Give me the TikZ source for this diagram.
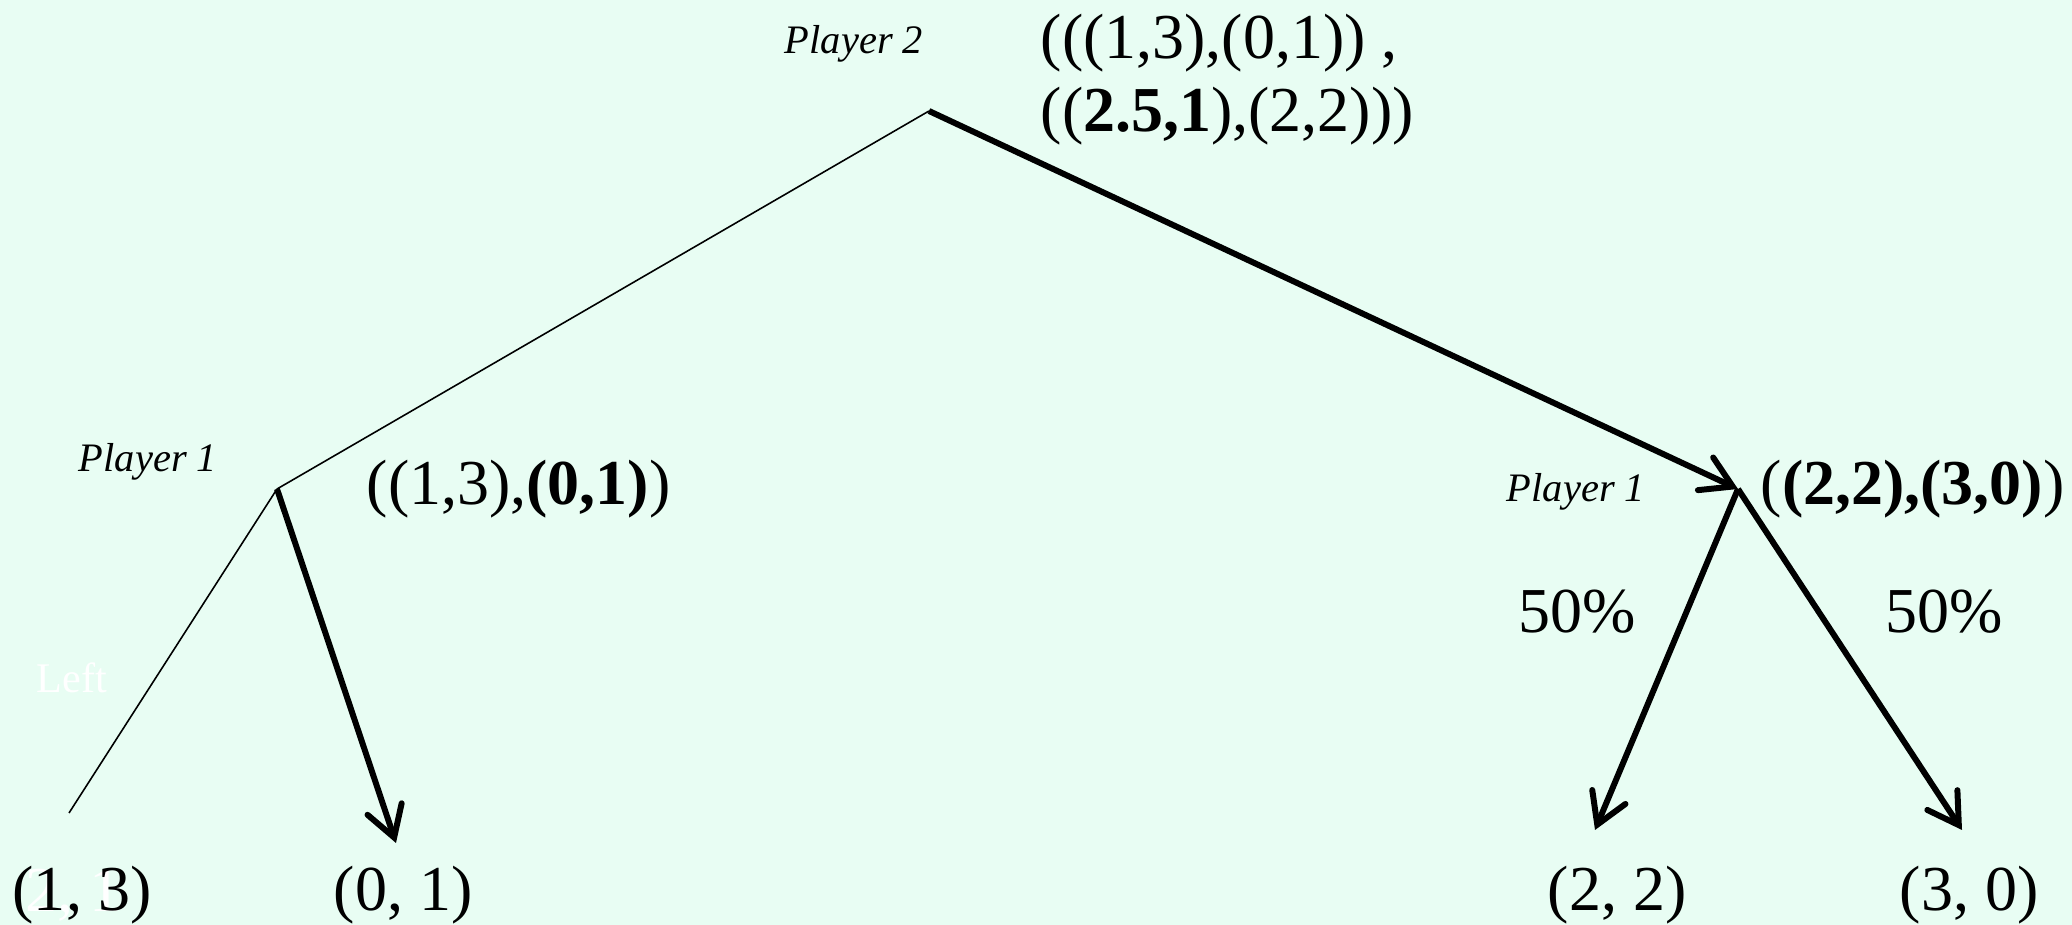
\documentclass[tikz,border=0pt]{standalone}
\usepackage{fontspec}
\setmainfont{Liberation Serif}
\usetikzlibrary{arrows.meta}
\definecolor{mintbg}{HTML}{E8FDF3}

\begin{document}
\begin{tikzpicture}[x=0.01cm,y=-0.01cm,
  every node/.style={inner sep=0pt,font=\fontsize{18.2}{20.8}\selectfont},
  who/.style={font=\fontsize{11.5}{13}\selectfont\itshape},
  hidden/.style={white,font=\fontsize{12}{14}\selectfont},
  thinedge/.style={line width=0.45pt},
  choice/.style={line width=1.7pt,-{Straight Barb[length=3mm,width=3.6mm,line cap=round]}}]
\fill[mintbg] (0,0) rectangle (2072,925);
\useasboundingbox (0,0) rectangle (2072,925);
% decision points and outcome ends
\coordinate (p2) at (929,111);
\coordinate (p1l) at (277,489);
\coordinate (p1r) at (1738,489);
\coordinate (endll) at (69,813);
\coordinate (endlr) at (396,843);
\coordinate (endrl) at (1595,830);
\coordinate (endrr) at (1962,830);
% labels
\node[who] (who2) at (854,44) {Player 2};
\node[anchor=west,align=left] (pay2) at (1040,80) {(((1,3),(0,1)) ,\\((\textbf{2.5,1}),(2,2)))};
\node[who] (who1l) at (148,462) {Player 1};
\node[anchor=west] (pay1l) at (366,489) {((1,3),\textbf{(0,1)})};
\node[who] (who1r) at (1576,492) {Player 1};
\node[anchor=west] (pay1r) at (1760,489) {(\textbf{(2,2),(3,0)})};
\node (probl) at (1577,612) {50\%};
\node (probr) at (1944,612) {50\%};
\node[hidden] (lefttag) at (72,678) {Left};
\node[white,anchor=west] (ghost) at (25,895) {2, 1};
\node (leafll) at (82,895) {(1, 3)};
\node (leaflr) at (403,895) {(0, 1)};
\node (leafrl) at (1617,895) {(2, 2)};
\node (leafrr) at (1969,895) {(3, 0)};
% moves
\draw[thinedge] (p2)--(p1l);
\draw[thinedge] (p1l)--(endll);
\foreach \a/\b in {p2/p1r,p1l/endlr,p1r/endrl,p1r/endrr}
  \draw[choice] (\a)--(\b);
\end{tikzpicture}
\end{document}
